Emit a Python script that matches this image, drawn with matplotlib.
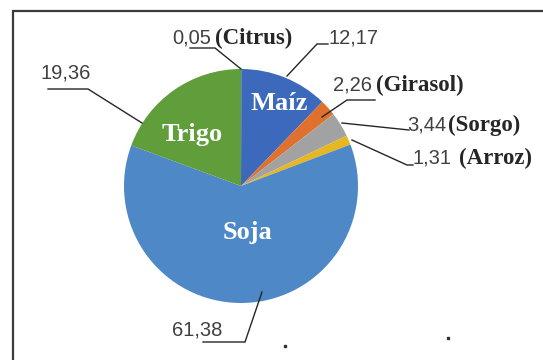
import matplotlib
matplotlib.use("Agg")
import matplotlib.pyplot as plt
from matplotlib.patches import Rectangle

# Share of cultivated area by crop (%), clockwise from 12 o'clock
crops = ["Citrus", "Maíz", "Girasol", "Sorgo", "Arroz", "Soja", "Trigo"]
shares = [0.05, 12.17, 2.26, 3.44, 1.31, 61.38, 19.36]
colors = ["#2E4F8F", "#3D69BC", "#E0702E", "#A2A2A2", "#E6B722", "#4F88C6", "#5F9E3A"]

# Crops whose name is written inside the slice
inside_names = ["Maíz", "Trigo", "Soja"]

W, H = 543, 360
fig = plt.figure(figsize=(W / 100, H / 100), dpi=100)
ax = fig.add_axes([0, 0, 1, 1])


def P(x, y):
    """Pixel position (y down) to data coordinates (y up)."""
    return x, H - y


cx, cy = P(241, 186)
ax.pie(shares, colors=colors, startangle=90, counterclock=False,
       center=(cx, cy), radius=117, wedgeprops=dict(linewidth=0), frame=True)
ax.set_xlim(0, W)
ax.set_ylim(0, H)
ax.set_aspect("equal")
ax.axis("off")

# Chart area border (runs off the right and bottom edges)
x0, y0 = P(12.5, 11)
ax.add_patch(Rectangle((x0, -10), W + 20, y0 + 10, fill=False,
                       edgecolor="#3A3A3A", linewidth=1.6, zorder=5))

num_font = dict(family="Liberation Sans", fontsize=14.5, color="#404040")
name_font = dict(family="Liberation Serif", fontsize=16.5, weight="bold", color="#262626")
in_font = dict(family="Liberation Serif", fontsize=19, weight="bold", color="white")

# Inside labels
inside_pos = {"Maíz": (279, 104), "Trigo": (192, 134), "Soja": (248, 233)}
for name in inside_names:
    ax.text(*P(*inside_pos[name]), name, ha="center", va="center", **in_font)

# Outside value labels: (anchor x, centre y, alignment, show name, gap after number)
label_pos = {
    "Citrus": (172, 38, "left", True, 3),
    "Maíz": (328, 38, "left", False, 0),
    "Girasol": (333, 85, "left", True, 3),
    "Sorgo": (407, 125, "left", True, 1),
    "Arroz": (413, 158, "left", True, 5),
    "Trigo": (40, 73, "left", False, 0),
    "Soja": (222, 330, "right", False, 0),
}
leaders = {
    "Citrus": [(190, 48), (215, 48), (241, 69)],
    "Maíz": [(328, 44), (317, 44), (287, 76)],
    "Girasol": [(375, 100), (347, 100), (322, 117)],
    "Sorgo": [(409, 130), (342, 123)],
    "Arroz": [(413, 165), (407, 165), (352, 140)],
    "Trigo": [(48, 89), (88, 89), (142, 123)],
    "Soja": [(203, 342), (245, 342), (262, 292)],
}

for crop, value in zip(crops, shares):
    x, y, ha, show_name, gap = label_pos[crop]
    txt = f"{value:.2f}".replace(".", ",")
    t = ax.text(*P(x, y), txt, ha=ha, va="center", **num_font)
    if show_name:
        ax.annotate(f"({crop})", xy=(1, 0.5), xycoords=t, xytext=(gap, 0),
                    textcoords="offset points", ha="left", va="center", **name_font)
    pts = [P(px, py) for px, py in leaders[crop]]
    ax.plot([p[0] for p in pts], [p[1] for p in pts], color="#262626",
            linewidth=1.0, solid_joinstyle="miter")

# Stray specks at the bottom of the chart area
ax.plot(*zip(P(285, 346), P(448, 338)), linestyle="none", marker="s",
        markersize=1.6, color="#303030")

fig.savefig("out.png", dpi=100)
